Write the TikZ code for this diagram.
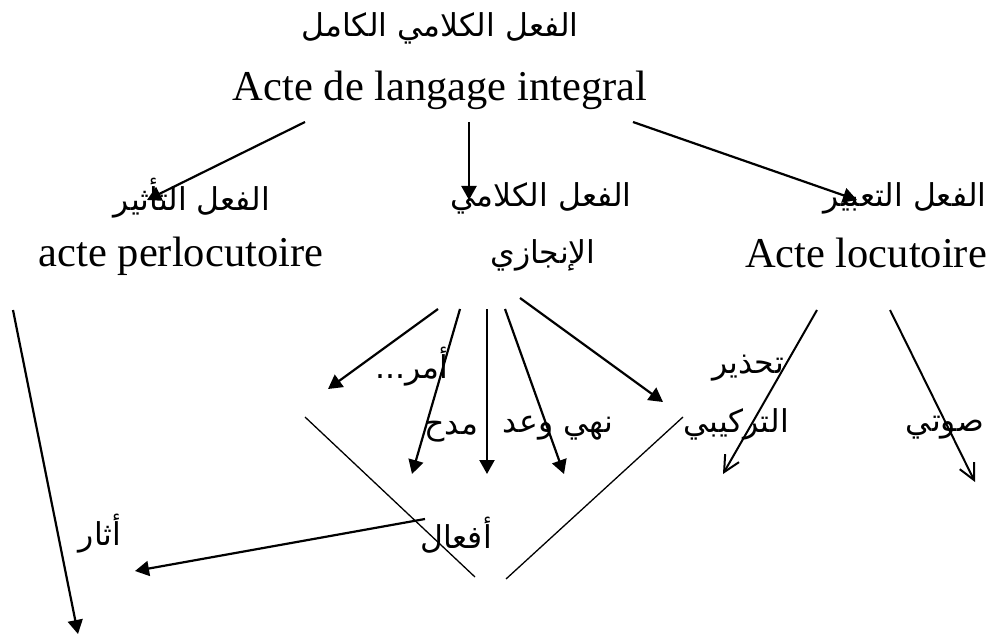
\documentclass[tikz,border=0pt]{standalone}
\usepackage{fontspec}
\setmainfont{Liberation Serif}
\newfontfamily\arabicfont[Script=Arabic]{DejaVu Sans}
\TeXXeTstate=1
\usetikzlibrary{arrows.meta}
\tikzset{
  >={Triangle[length=14pt,width=15pt]},
  every node/.style={inner sep=0pt},
  fr/.style={font=\fontsize{42.5}{50}\selectfont, anchor=base},
  ar/.style={font=\arabicfont\fontsize{31.5}{36}\selectfont,
    execute at begin node=\beginR, execute at end node=\endR},
  bold line/.style={->, line width=2.2pt},
  open line/.style={-{Straight Barb[length=16pt,width=16pt]}, line width=2pt},
  thin line/.style={line width=1.3pt},
}

\begin{document}
\begin{tikzpicture}[x=1pt, y=-1pt]
      \useasboundingbox (0,0) rectangle (991,639);

      % texts
      \node[ar] (full)    at (440,28)  {الفعل الكلامي الكامل};
      \node[fr] (fullfr)  at (440,101) {Acte de langage integral};
      \node[ar] (perl)    at (192,198) {الفعل التأثير};
      \node[fr] (perlfr)  at (181,266) {acte perlocutoire};
      \node[ar] (illoc)   at (541,198) {الفعل الكلامي};
      \node[ar] (illoc2)  at (543,255) {الإنجازي};
      \node[ar] (loc)     at (905,198) {الفعل التعبير};
      \node[fr] (locfr)   at (866,268) {Acte locutoire};
      \node[ar] (amr)     at (412,367) {أمر...};
      \node[ar] (madh)    at (451,432) {مدح};
      \node[ar] (nahy)    at (558,428) {نهي وعد};
      \node[ar] (tahdhir) at (748,368) {تحذير};
      \node[ar] (tarkibi) at (736,424) {التركيبي};
      \node[ar] (sawti)   at (945,428) {صوتي};
      \node[ar] (afal)    at (456,535) {أفعال};
      \node[ar] (athar)   at (100,534) {أثار};

      % ends of the connectors
      \coordinate (t1) at (305,122);  \coordinate (h1) at (147,200);
      \coordinate (t2) at (469,122);  \coordinate (h2) at (469,200);
      \coordinate (t3) at (633,122);  \coordinate (h3) at (857,200);
      \coordinate (i1) at (438,309);  \coordinate (k1) at (328,389);
      \coordinate (i2) at (460,309);  \coordinate (k2) at (412,474);
      \coordinate (i3) at (487,309);  \coordinate (k3) at (487,474);
      \coordinate (i4) at (505,309);  \coordinate (k4) at (564,474);
      \coordinate (i5) at (520,298);  \coordinate (k5) at (663,402);
      \coordinate (l1) at (817,310);  \coordinate (m1) at (723,474);
      \coordinate (l2) at (890,310);  \coordinate (m2) at (975,482);
      \coordinate (p1) at (13,310);   \coordinate (q1) at (78,634);
      \coordinate (a1) at (425,519);  \coordinate (b1) at (135,571);
      \coordinate (v1) at (305,417);  \coordinate (v2) at (475,577);
      \coordinate (v3) at (506,579);  \coordinate (v4) at (683,417);

      \draw (t1) edge[bold line] (h1)
            (t2) edge[bold line] (h2)
            (t3) edge[bold line] (h3)
            (i1) edge[bold line] (k1)
            (i2) edge[bold line] (k2)
            (i3) edge[bold line] (k3)
            (i4) edge[bold line] (k4)
            (i5) edge[bold line] (k5)
            (l1) edge[open line] (m1)
            (l2) edge[open line] (m2)
            (p1) edge[bold line] (q1)
            (a1) edge[bold line] (b1)
            (v1) edge[thin line] (v2)
            (v3) edge[thin line] (v4);
\end{tikzpicture}
\end{document}
